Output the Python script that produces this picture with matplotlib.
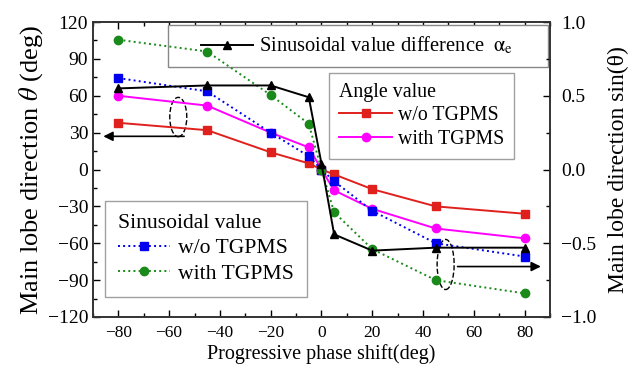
import matplotlib
matplotlib.use("Agg")
import matplotlib.pyplot as plt
from matplotlib.patches import Ellipse, Rectangle
from matplotlib.ticker import MultipleLocator

plt.rcParams['font.family'] = ['Liberation Serif', 'DejaVu Serif']
plt.rcParams['mathtext.fontset'] = 'stix'

# progressive phase shift (deg)
phase = [-80, -45, -20, -5, 0, 5, 20, 45, 80]

# main lobe direction, angle value (deg) - left axis
angle_wo = [38, 32, 14, 5, 0, -4, -16, -30, -36]
angle_with = [60, 52, 30, 18, 0, -17, -32, -48, -56]

# main lobe direction, sinusoidal value - right axis
sin_wo = [0.62, 0.53, 0.25, 0.09, 0.0, -0.08, -0.28, -0.50, -0.59]
sin_with = [0.88, 0.80, 0.505, 0.31, 0.0, -0.29, -0.54, -0.75, -0.84]
sin_diff = [0.55, 0.57, 0.57, 0.49, 0.04, -0.44, -0.55, -0.53, -0.53]

fig = plt.figure(figsize=(6.41, 3.71), dpi=100)
ax = fig.add_axes([0.145, 0.1456, 0.713, 0.795])
ax2 = ax.twinx()

l_red, = ax.plot(phase, angle_wo, '-s', color='#e0201c', ms=5.5, lw=1.4)
l_mag, = ax.plot(phase, angle_with, '-o', color='#ff00ff', ms=6, lw=1.4)

l_blue, = ax2.plot(phase, sin_wo, ':s', color='#0000ee', ms=5.5, lw=1.4)
l_green, = ax2.plot(phase, sin_with, ':o', color='#1a8a1a', ms=6, lw=1.4)
l_black, = ax2.plot(phase, sin_diff, '-^', color='black', ms=6, lw=1.4)

ax.set_xlim(-90, 90)
ax.set_ylim(-120, 120)
ax2.set_ylim(-1.0, 1.0)

ax.xaxis.set_major_locator(MultipleLocator(20))
ax.xaxis.set_minor_locator(MultipleLocator(10))
ax.yaxis.set_major_locator(MultipleLocator(30))
ax.yaxis.set_minor_locator(MultipleLocator(15))
ax2.yaxis.set_major_locator(MultipleLocator(0.5))
ax2.yaxis.set_minor_locator(MultipleLocator(0.25))

ax.tick_params(axis='x', which='both', direction='in', top=True, labelsize=12.5, pad=6)
ax.tick_params(axis='y', which='both', direction='in', labelsize=14)
ax2.tick_params(axis='y', which='both', direction='in', labelsize=14, pad=8)
for a in (ax, ax2):
    a.tick_params(which='major', length=5, width=1)
    a.tick_params(which='minor', length=3, width=1)
    for s in a.spines.values():
        s.set_linewidth(1.2)
        s.set_color('#333333')

ax.set_xlabel('Progressive phase shift(deg)', fontsize=14.5, labelpad=2)
ax.set_ylabel('Main lobe direction $\\theta$ (deg)', fontsize=19, labelpad=2)
ax2.set_ylabel('Main lobe direction sin(θ)', fontsize=17, labelpad=8)

# legends
leg_angle = ax2.legend([l_red, l_mag], ['w/o TGPMS', 'with TGPMS'],
                       title='Angle value', title_fontsize=14.3, alignment='left',
                       loc='upper left', bbox_to_anchor=(0.516, 0.827),
                       fontsize=14.3, fancybox=False, edgecolor='#888888',
                       handlelength=2.7, handletextpad=0.3, borderaxespad=0,
                       labelspacing=0.22, borderpad=0.5)
leg_angle.get_frame().set_linewidth(1.0)
ax2.add_artist(leg_angle)

leg_sin = ax2.legend([l_blue, l_green], ['w/o TGPMS', 'with TGPMS'],
                     title='Sinusoidal value', title_fontsize=15.6, alignment='left',
                     loc='lower left', bbox_to_anchor=(0.026, 0.068),
                     fontsize=15.6, fancybox=False, edgecolor='#888888',
                     handlelength=2.4, handletextpad=0.4, borderaxespad=0,
                     labelspacing=0.25, borderpad=0.6)
leg_sin.get_frame().set_linewidth(1.0)
ax2.add_artist(leg_sin)

leg_diff = ax2.legend([l_black], ['Sinusoidal value difference  $\\mathrm{\\alpha}_\\mathrm{e}$'],
                      loc='center', bbox_to_anchor=(0.578, 0.919), fontsize=14.8,
                      frameon=False, handlelength=2.5, handletextpad=0.3,
                      borderaxespad=0)
ax2.add_patch(Rectangle((0.164, 0.847), 0.832, 0.143, transform=ax2.transAxes,
                        fill=True, facecolor='white', edgecolor='#888888', lw=1.0,
                        zorder=1.5))

# dashed ellipses with arrows pointing to the matching axis
ax.add_patch(Ellipse((-56.4, 42.7), 6.7, 32, fill=False, ls='--', lw=1.0,
                     color='black'))
ax.annotate('', xy=(-87, 27), xytext=(-53, 27),
            arrowprops=dict(arrowstyle='-|>', color='black', lw=1.2,
                            mutation_scale=14))
ax2.add_patch(Ellipse((48.9, -0.644), 6.7, 0.34, fill=False, ls='--', lw=1.0,
                      color='black'))
ax2.annotate('', xy=(87.5, -0.658), xytext=(52.5, -0.658),
             arrowprops=dict(arrowstyle='-|>', color='black', lw=1.2,
                             mutation_scale=14))

fig.savefig('out.png', dpi=100)
